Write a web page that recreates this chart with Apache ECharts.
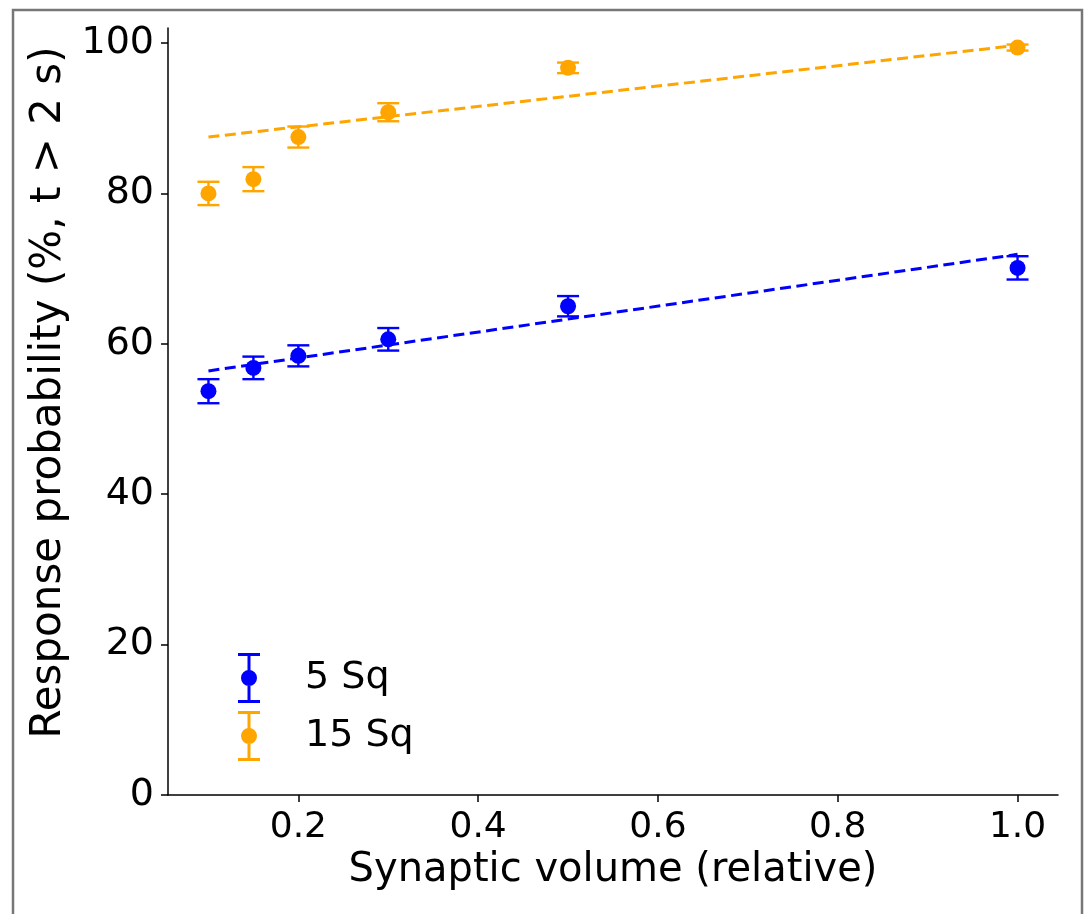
<!DOCTYPE html>
<html>
<head>
<meta charset="utf-8">
<script src="https://cdn.jsdelivr.net/npm/echarts@6/dist/echarts.min.js"></script>
<style>
html,body{margin:0;padding:0;background:#fff;}
#chart{width:1089px;height:914px;}
</style>
</head>
<body>
<div id="chart"></div>
<script>
// ---- data ----
const xValues = [0.1, 0.15, 0.2, 0.3, 0.5, 1.0];
const blueMean = [53.7, 56.8, 58.4, 60.6, 65.0, 70.1];
const blueErr = [1.6, 1.5, 1.4, 1.5, 1.35, 1.55];
const orangeMean = [80.0, 81.9, 87.5, 90.8, 96.7, 99.4];
const orangeErr = [1.55, 1.6, 1.4, 1.2, 0.7, 0.4];
const fitX = [0.1, 1.0];
const blueFit = [56.4, 71.9];
const orangeFit = [87.5, 99.7];
const xTicks = [0.2, 0.4, 0.6, 0.8, 1.0];
const yTicks = [0, 20, 40, 60, 80, 100];
const seriesNames = ['5 Sq', '15 Sq'];

const BLUE = '#0000ff';
const ORANGE = '#ffa500';
const FONT = 'DejaVu Sans';

const chart = echarts.init(document.getElementById('chart'));

function pairs(xs, ys) { return xs.map((x, i) => [x, ys[i]]); }
function errData(xs, m, e) { return xs.map((x, i) => [x, m[i] - e[i], m[i] + e[i]]); }

function errSeries(name, data, color) {
  return {
    type: 'custom',
    name: name,
    data: data,
    z: 3,
    renderItem: function (params, api) {
      const x = api.value(0);
      const lo = api.coord([x, api.value(1)]);
      const hi = api.coord([x, api.value(2)]);
      const hw = 11;
      const st = { stroke: color, lineWidth: 2.4 };
      return {
        type: 'group',
        children: [
          { type: 'line', shape: { x1: lo[0], y1: lo[1], x2: hi[0], y2: hi[1] }, style: st },
          { type: 'line', shape: { x1: lo[0] - hw, y1: lo[1], x2: lo[0] + hw, y2: lo[1] }, style: st },
          { type: 'line', shape: { x1: hi[0] - hw, y1: hi[1], x2: hi[0] + hw, y2: hi[1] }, style: st }
        ]
      };
    },
    encode: { x: 0, y: [1, 2] },
    silent: true
  };
}

const legendIcon = 'path://M0 0H22V3H0Z M9.5 0H12.5V50H9.5Z M0 47H22V50H0Z M3 25A8 8 0 1 1 19 25A8 8 0 1 1 3 25Z';

const option = {
  animation: false,
  backgroundColor: '#ffffff',
  grid: { left: 168, right: 31, top: 28, bottom: 119, containLabel: false },
  xAxis: {
    type: 'value',
    min: 0.055,
    max: 1.045,
    name: 'Synaptic volume (relative)',
    nameLocation: 'middle',
    nameGap: 55,
    nameTextStyle: { fontFamily: FONT, fontSize: 40, color: '#000' },
    axisLine: { show: true, onZero: false, lineStyle: { color: '#000', width: 1.5 } },
    axisTick: { show: true, inside: false, length: 7, lineStyle: { color: '#000', width: 1.5 }, customValues: xTicks },
    axisLabel: { fontFamily: FONT, fontSize: 36, color: '#000', margin: 15, customValues: xTicks,
      formatter: v => v.toFixed(1) },
    splitLine: { show: false }
  },
  yAxis: {
    type: 'value',
    min: 0,
    max: 102,
    name: 'Response probability (%, t > 2 s)',
    nameLocation: 'middle',
    nameGap: 97,
    nameTextStyle: { fontFamily: FONT, fontSize: 42, color: '#000', padding: [0, 0, 0, 38] },
    axisLine: { show: true, onZero: false, lineStyle: { color: '#000', width: 1.5 } },
    axisTick: { show: true, inside: false, length: 7, lineStyle: { color: '#000', width: 1.5 }, customValues: yTicks },
    axisLabel: { fontFamily: FONT, fontSize: 38, color: '#000', margin: 14, customValues: yTicks },
    splitLine: { show: false }
  },
  legend: {
    orient: 'vertical',
    left: 233,
    top: 648,
    itemWidth: 22,
    itemHeight: 50,
    itemGap: 8,
    textStyle: { fontFamily: FONT, fontSize: 38, color: '#000', padding: [0, 0, 0, 40] },
    data: [
      { name: seriesNames[0], icon: legendIcon, itemStyle: { color: BLUE } },
      { name: seriesNames[1], icon: legendIcon, itemStyle: { color: ORANGE } }
    ]
  },
  graphic: [
    { type: 'rect', shape: { x: 13, y: 10, width: 1069, height: 920 },
      style: { fill: 'none', stroke: '#777777', lineWidth: 2.5 }, silent: true, z: 100 }
  ],
  series: [
    { type: 'line', name: 'fit5', data: pairs(fitX, blueFit), showSymbol: false, symbol: 'none',
      lineStyle: { color: BLUE, width: 3, type: [11, 5.5] }, z: 2, silent: true },
    { type: 'line', name: 'fit15', data: pairs(fitX, orangeFit), showSymbol: false, symbol: 'none',
      lineStyle: { color: ORANGE, width: 3, type: [11, 5.5] }, z: 2, silent: true },
    errSeries(seriesNames[0], errData(xValues, blueMean, blueErr), BLUE),
    errSeries(seriesNames[1], errData(xValues, orangeMean, orangeErr), ORANGE),
    { type: 'scatter', name: seriesNames[0], data: pairs(xValues, blueMean), symbol: 'circle', symbolSize: 16,
      itemStyle: { color: BLUE, opacity: 1 }, z: 4 },
    { type: 'scatter', name: seriesNames[1], data: pairs(xValues, orangeMean), symbol: 'circle', symbolSize: 16,
      itemStyle: { color: ORANGE, opacity: 1 }, z: 4 }
  ]
};
chart.setOption(option);
</script>
</body>
</html>
